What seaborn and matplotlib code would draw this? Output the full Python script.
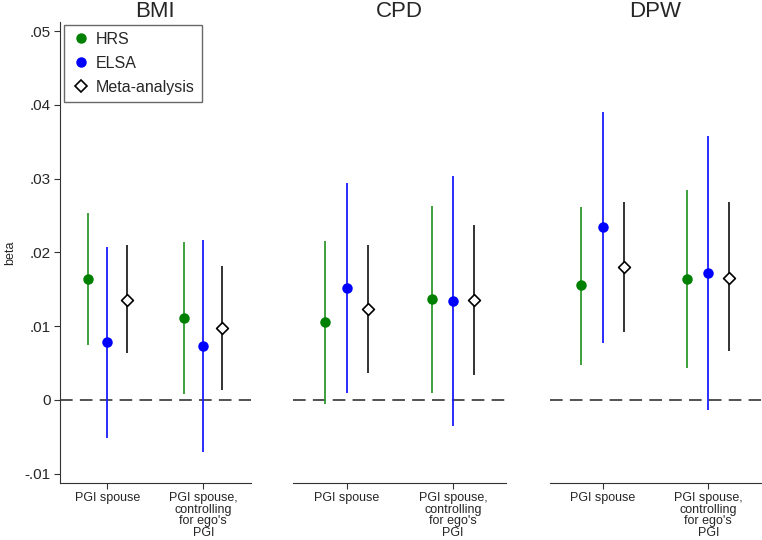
import numpy as np
import pandas as pd
import matplotlib
matplotlib.use("Agg")
import matplotlib.pyplot as plt
from matplotlib.lines import Line2D
from matplotlib.ticker import FuncFormatter
import seaborn as sns

# ── Data ───────────────────────────────────────────────────────────────────────
outcomes = ["BMI", "CPD", "DPW"]
models = ["PGI spouse", "PGI spouse,\ncontrolling\nfor ego's\nPGI"]
sources = ["HRS", "ELSA", "Meta-analysis"]

# per outcome: [PGI spouse, PGI spouse controlling for ego's PGI]
hrs_beta = [[0.0164, 0.0111], [0.0106, 0.0137], [0.0156, 0.0164]]
hrs_lo   = [[0.0075, 0.0008], [-0.0005, 0.0010], [0.0048, 0.0043]]
hrs_hi   = [[0.0254, 0.0214], [0.0216, 0.0263], [0.0262, 0.0285]]

elsa_beta = [[0.0078, 0.0073], [0.0152, 0.0134], [0.0234, 0.0172]]
elsa_lo   = [[-0.0052, -0.0071], [0.0010, -0.0035], [0.0077, -0.0013]]
elsa_hi   = [[0.0207, 0.0217], [0.0294, 0.0303], [0.0391, 0.0358]]

meta_beta = [[0.0136, 0.0098], [0.0123, 0.0136], [0.0180, 0.0166]]
meta_lo   = [[0.0063, 0.0014], [0.0036, 0.0034], [0.0092, 0.0066]]
meta_hi   = [[0.0210, 0.0182], [0.0210, 0.0237], [0.0268, 0.0268]]

rows = []
for src, b, lo, hi in [("HRS", hrs_beta, hrs_lo, hrs_hi),
                       ("ELSA", elsa_beta, elsa_lo, elsa_hi),
                       ("Meta-analysis", meta_beta, meta_lo, meta_hi)]:
    for i, out in enumerate(outcomes):
        for j in range(len(models)):
            rows.append(dict(outcome=out, model=j, source=src,
                             beta=b[i][j], lo=lo[i][j], hi=hi[i][j]))
df = pd.DataFrame(rows)

# ── Style ──────────────────────────────────────────────────────────────────────
sns.set_style("ticks")
plt.rcParams["font.family"] = ["Liberation Sans", "DejaVu Sans"]

offsets = {"HRS": -0.2, "ELSA": 0.0, "Meta-analysis": 0.2}
line_col = {"HRS": "#2f9a2f", "ELSA": "#1a1aff", "Meta-analysis": "#222222"}
face_col = {"HRS": "#008000", "ELSA": "#0000ff", "Meta-analysis": "white"}
edge_col = {"HRS": "#008000", "ELSA": "#0000ff", "Meta-analysis": "black"}
marker = {"HRS": "o", "ELSA": "o", "Meta-analysis": "D"}
msize = {"HRS": 40, "ELSA": 40, "Meta-analysis": 36}

fig = plt.figure(figsize=(7.62, 5.40), dpi=100)
panel_rects = [
    [0.0781, 0.105, 0.2516, 0.855],
    [0.3850, 0.105, 0.2793, 0.855],
    [0.7215, 0.105, 0.2772, 0.855],
]

ylim = (-0.0113, 0.0513)
fmt = FuncFormatter(lambda v, p: "0" if abs(v) < 1e-9 else
                    (f"{v:.2f}".replace("0.", ".")))

for k, out in enumerate(outcomes):
    ax = fig.add_axes(panel_rects[k])
    sub = df[df.outcome == out].copy()
    sub["x"] = sub["model"] + sub["source"].map(offsets)

    ax.axhline(0, color="#444444", lw=1.3, ls=(0, (7, 4)), zorder=1)

    for src in sources:
        s = sub[sub.source == src]
        ax.vlines(s["x"], s["lo"], s["hi"], color=line_col[src], lw=1.3, zorder=2)
        sns.scatterplot(data=s, x="x", y="beta", ax=ax, marker=marker[src],
                        s=msize[src], color=face_col[src], edgecolor=edge_col[src],
                        linewidth=1.2, zorder=3, legend=False)

    ax.set_xlim(-0.5, 1.5)
    ax.set_ylim(*ylim)
    ax.set_xticks(range(len(models)))
    ax.set_xticklabels(models, fontsize=9, linespacing=0.95)
    ax.set_xlabel("")
    ax.set_title(out, fontsize=16, pad=3)
    ax.tick_params(axis="x", length=4.5, width=0.8, color="#333333", pad=2)
    ax.spines["top"].set_visible(False)
    ax.spines["right"].set_visible(False)
    ax.spines["bottom"].set_color("#333333")

    if k == 0:
        ax.set_yticks([-0.01, 0, 0.01, 0.02, 0.03, 0.04, 0.05])
        ax.yaxis.set_major_formatter(fmt)
        ax.tick_params(axis="y", labelsize=11, length=4.5, width=0.8,
                       color="#333333", pad=2)
        ax.set_ylabel("beta", fontsize=9, labelpad=6)
        ax.spines["left"].set_color("#333333")

        handles = [
            Line2D([], [], ls="", marker="o", ms=6.5, mfc="#008000", mec="#008000"),
            Line2D([], [], ls="", marker="o", ms=6.5, mfc="#0000ff", mec="#0000ff"),
            Line2D([], [], ls="", marker="D", ms=6, mfc="white", mec="black", mew=1.2),
        ]
        leg = ax.legend(handles, sources, loc="upper left",
                        bbox_to_anchor=(0.025, 0.993), borderaxespad=0,
                        fontsize=11.5, frameon=True, fancybox=False,
                        handletextpad=0.3, handlelength=1.2, labelspacing=0.55,
                        borderpad=0.45)
        leg.get_frame().set_edgecolor("#444444")
        leg.get_frame().set_linewidth(1.0)
    else:
        ax.set_yticks([])
        ax.set_ylabel("")
        ax.spines["left"].set_visible(False)

plt.savefig("out.png", dpi=100)
plt.close()
